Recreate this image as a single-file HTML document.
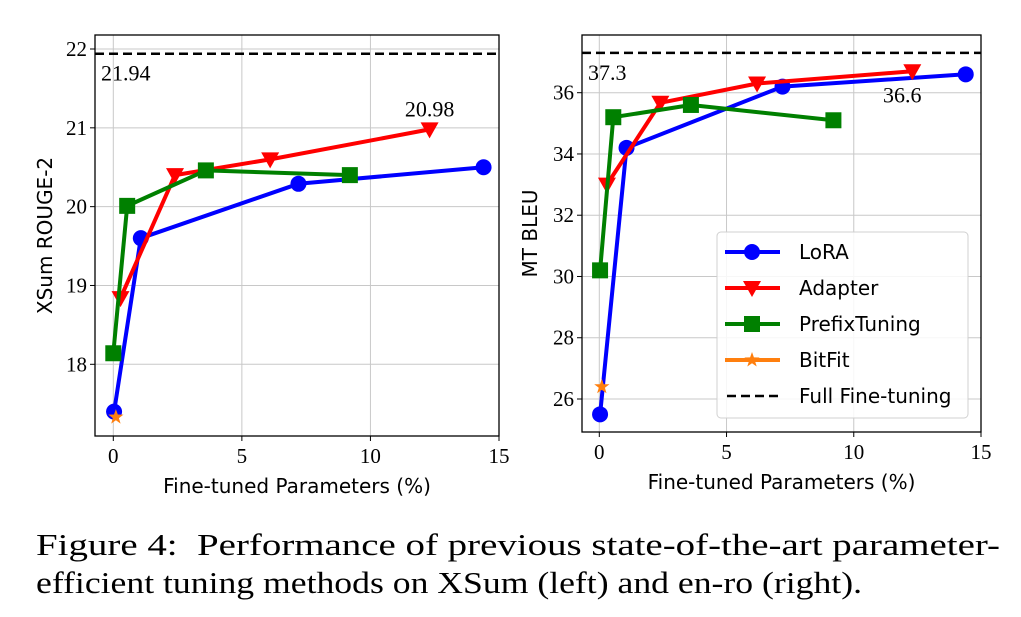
<!DOCTYPE html>
<html><head><meta charset="utf-8">
<style>
body{margin:0;background:#fff;width:1021px;height:617px;overflow:hidden;}
svg text{font-family:"Liberation Serif",serif;}
.sans{font-family:"DejaVu Sans","Liberation Sans",sans-serif !important;}
</style></head><body>
<svg id="fig" width="1021" height="617" style="position:absolute;left:0;top:0">
<g>
<text x="36" y="555" font-size="31" textLength="964" lengthAdjust="spacingAndGlyphs">Figure 4:&#160; Performance of previous state-of-the-art parameter-</text>
<text x="36" y="593" font-size="31" textLength="826" lengthAdjust="spacingAndGlyphs">efficient tuning methods on XSum (left) and en-ro (right).</text>
</g>
</svg>
<script>
const xsumLoraX=[0.03,1.07,7.2,14.4], xsumLoraY=[17.4,19.6,20.29,20.5];
const xsumAdapterX=[0.28,2.4,6.1,12.3], xsumAdapterY=[18.84,20.4,20.6,20.98];
const xsumPrefixX=[0.0,0.54,3.6,9.2], xsumPrefixY=[18.14,20.01,20.46,20.4];
const xsumBitfitX=[0.1], xsumBitfitY=[17.33];
const xsumFull=21.94;
const mtLoraX=[0.03,1.07,7.2,14.4], mtLoraY=[25.5,34.2,36.2,36.6];
const mtAdapterX=[0.3,2.4,6.2,12.3], mtAdapterY=[33.0,35.67,36.3,36.7];
const mtPrefixX=[0.03,0.55,3.6,9.2], mtPrefixY=[30.2,35.2,35.6,35.1];
const mtBitfitX=[0.1], mtBitfitY=[26.4];
const mtFull=37.3;
const xTicks=[0,5,10,15];
const xsumYTicks=[18,19,20,21,22];
const mtYTicks=[26,28,30,32,34,36];

const NS="http://www.w3.org/2000/svg";
const svg=document.getElementById('fig');
function mk(tag,attrs,parent){const e=document.createElementNS(NS,tag);for(const k in attrs)e.setAttribute(k,attrs[k]);(parent||svg).appendChild(e);return e;}

function marker(g,type,cx,cy,color){
  let e;
  if(type==='circle'){e=mk('circle',{cx:cx,cy:cy,r:8,fill:color},g);}
  else if(type==='square'){e=mk('rect',{x:cx-8,y:cy-8,width:16,height:16,fill:color},g);}
  else if(type==='tri'){e=mk('polygon',{points:`${cx-9},${cy-7} ${cx+9},${cy-7} ${cx},${cy+9}`,fill:color},g);}
  else {let p=[];for(let i=0;i<10;i++){const r=i%2?3.2:8,a=-Math.PI/2+i*Math.PI/5;p.push((cx+r*Math.cos(a)).toFixed(1)+','+(cy+r*Math.sin(a)).toFixed(1));}
    e=mk('polygon',{points:p.join(' '),fill:color},g);}
  return e;
}

function chart(cfg){
  const {L,R,T,B,x0,x0px,x1,x1px,y0,y0px,y1,y1px}=cfg;
  const sx=v=>x0px+(v-x0)*(x1px-x0px)/(x1-x0);
  const sy=v=>y0px+(v-y0)*(y1px-y0px)/(y1-y0);
  const g=mk('g',{});
  
  
  xTicks.forEach(t=>{const x=sx(t);
    const l=mk('line',{x1:x,x2:x,y1:T,y2:B,stroke:'#c8c8c8','stroke-width':1},g);
    
    mk('line',{x1:x,x2:x,y1:B,y2:B+5,stroke:'#000','stroke-width':1},g);
    const tx=mk('text',{x:x,y:B+27,'text-anchor':'middle','font-size':21},g);tx.textContent=t;
    
  });
  cfg.yTicks.forEach(t=>{const y=sy(t);
    const l=mk('line',{x1:L,x2:R,y1:y,y2:y,stroke:'#c8c8c8','stroke-width':1},g);
    
    mk('line',{x1:L-5,x2:L,y1:y,y2:y,stroke:'#000','stroke-width':1},g);
    const tx=mk('text',{x:L-8,y:y+7,'text-anchor':'end','font-size':21},g);tx.textContent=t;
    
  });
  const fl=mk('line',{x1:L,x2:R,y1:sy(cfg.full),y2:sy(cfg.full),stroke:'#000','stroke-width':2.5,'stroke-dasharray':'9,5'},g);
  
  const ft=mk('text',{x:L+6,y:sy(cfg.full)+27,'font-size':22},g);ft.textContent=cfg.full;
  
  cfg.series.forEach(s=>{
    const sg=mk('g',{},g);
    
    
    const pts=s.x.map((v,i)=>sx(v).toFixed(1)+','+sy(s.y[i]).toFixed(1)).join(' ');
    if(s.x.length>1)mk('polyline',{points:pts,fill:'none',stroke:s.color,'stroke-width':4,'stroke-linejoin':'round'},sg);
    s.x.forEach((v,i)=>{const m=marker(sg,s.m,sx(v),sy(s.y[i]),s.color);
      });
  });
  const a=cfg.ann;
  const at=mk('text',{x:sx(a.x)+a.dx,y:sy(a.y)+a.dy,'text-anchor':'middle','font-size':22},g);at.textContent=a.text;
  
  mk('rect',{x:L,y:T,width:R-L,height:B-T,fill:'none',stroke:'#000','stroke-width':1.3},g);
  const xl=mk('text',{x:(L+R)/2,y:B+57,'text-anchor':'middle','font-size':20,class:'sans'},g);xl.textContent='Fine-tuned Parameters (%)';
  
  const yl=mk('text',{x:0,y:0,'text-anchor':'middle','font-size':20,class:'sans',transform:`translate(${cfg.ylx},${(T+B)/2}) rotate(-90)`},g);yl.textContent=cfg.ytitle;
  
  return {sx,sy};
}

chart({name:'xsum-chart',L:95,R:499,T:35,B:436,x0:0,x0px:113.3,x1:15,x1px:499,y0:18,y0px:364.3,y1:22,y1px:49,
  yTicks:xsumYTicks,full:xsumFull,ytitle:'XSum ROUGE-2',ylx:52,
  ann:{x:xsumAdapterX[3],y:xsumAdapterY[3],text:'20.98',dx:0,dy:-13},
  series:[
   {name:'lora-series',x:xsumLoraX,y:xsumLoraY,color:'#0000ff',m:'circle'},
   {name:'adapter-series',x:xsumAdapterX,y:xsumAdapterY,color:'#ff0000',m:'tri'},
   {name:'prefixtuning-series',x:xsumPrefixX,y:xsumPrefixY,color:'#008000',m:'square'},
   {name:'bitfit-series',x:xsumBitfitX,y:xsumBitfitY,color:'#ff7f0e',m:'star'}]});

chart({name:'mt-chart',L:582,R:981,T:35,B:432,x0:0,x0px:599.3,x1:15,x1px:981,y0:36,y0px:92.7,y1:26,y1px:399,
  yTicks:mtYTicks,full:mtFull,ytitle:'MT BLEU',ylx:537,
  ann:{x:mtAdapterX[3],y:mtAdapterY[3],text:'36.6',dx:-10,dy:31},
  series:[
   {name:'lora-series',x:mtLoraX,y:mtLoraY,color:'#0000ff',m:'circle'},
   {name:'adapter-series',x:mtAdapterX,y:mtAdapterY,color:'#ff0000',m:'tri'},
   {name:'prefixtuning-series',x:mtPrefixX,y:mtPrefixY,color:'#008000',m:'square'},
   {name:'bitfit-series',x:mtBitfitX,y:mtBitfitY,color:'#ff7f0e',m:'star'}]});

const lg=mk('g',{});


mk('rect',{x:717,y:232,width:251,height:186,rx:4,fill:'#fff','fill-opacity':0.85,stroke:'#d0d0d0','stroke-width':1},lg);
const legNames=['LoRA','Adapter','PrefixTuning','BitFit','Full Fine-tuning'];
const legColors=['#0000ff','#ff0000','#008000','#ff7f0e','#000'];
const legM=['circle','tri','square','star','dash'];
legNames.forEach((n,i)=>{
  const y=252+i*36;
  const eg=mk('g',{},lg);
  
  
  if(legM[i]==='dash'){mk('line',{x1:727,x2:778,y1:y,y2:y,stroke:'#000','stroke-width':2.5,'stroke-dasharray':'9,5'},eg);}
  else{mk('line',{x1:725,x2:780,y1:y,y2:y,stroke:legColors[i],'stroke-width':4},eg);marker(eg,legM[i],752,y,legColors[i]);}
  const t=mk('text',{x:799,y:y+7,'font-size':20,class:'sans'},eg);t.textContent=n;
});
</script>
</body></html>
